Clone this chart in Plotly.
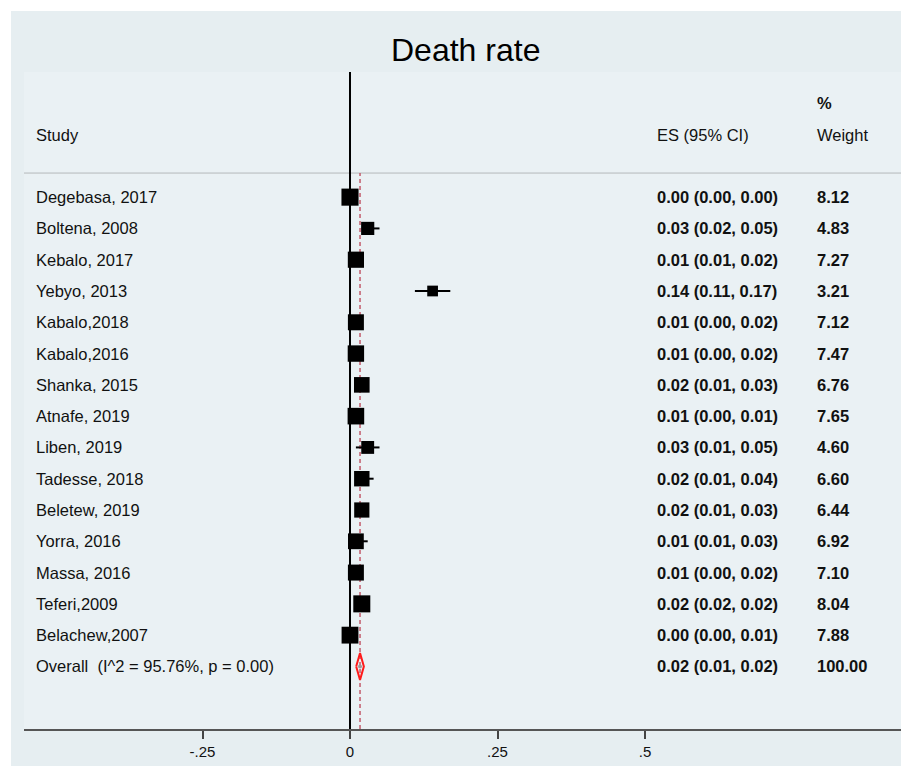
import math
import plotly.graph_objects as go

# ---- data -------------------------------------------------------------
studies = ["Degebasa, 2017", "Boltena, 2008", "Kebalo, 2017", "Yebyo, 2013",
           "Kabalo,2018", "Kabalo,2016", "Shanka, 2015", "Atnafe, 2019",
           "Liben, 2019", "Tadesse, 2018", "Beletew, 2019", "Yorra, 2016",
           "Massa, 2016", "Teferi,2009", "Belachew,2007"]
es = [0.00, 0.03, 0.01, 0.14, 0.01, 0.01, 0.02, 0.01, 0.03, 0.02, 0.02,
      0.01, 0.01, 0.02, 0.00]
ci_low = [0.00, 0.02, 0.01, 0.11, 0.00, 0.00, 0.01, 0.00, 0.01, 0.01, 0.01,
          0.01, 0.00, 0.02, 0.00]
ci_high = [0.00, 0.05, 0.02, 0.17, 0.02, 0.02, 0.03, 0.01, 0.05, 0.04, 0.03,
           0.03, 0.02, 0.02, 0.01]
weights = [8.12, 4.83, 7.27, 3.21, 7.12, 7.47, 6.76, 7.65, 4.60, 6.60, 6.44,
           6.92, 7.10, 8.04, 7.88]
overall_es = 0.017
overall_low = 0.0105
overall_high = 0.0235
overall_weight = 100.00
i_squared = 95.76
p_het = 0.00
tick_vals = [-0.25, 0, 0.25, 0.5]
tick_text = ["-.25", "0", ".25", ".5"]

# ---- layout geometry --------------------------------------------------
W, H = 901, 766
ML, MR, MT, MB = 24, 0, 72, 37
PW, PH = W - ML - MR, H - MT - MB
PX_PER_UNIT = 590.0
ZERO_PX = 350.0
x_range = [(ML - ZERO_PX) / PX_PER_UNIT, (W - MR - ZERO_PX) / PX_PER_UNIT]
y_range = [17.0, -4.0]          # rows, reversed (row 0 at top)


def px_x(p):
    """horizontal pixel -> paper fraction"""
    return (p - ML) / PW


def px_y(p):
    """vertical pixel (from top) -> paper fraction"""
    return (H - MB - p) / PH


FONT = "Liberation Sans, Arial, sans-serif"
TXT = "#111111"
FS = 16.5
n = len(studies)
rows = list(range(n))
overall_row = n

fig = go.Figure()

# confidence-interval whiskers
cx, cy = [], []
for i in rows:
    cx += [ci_low[i], ci_high[i], None]
    cy += [i, i, None]
fig.add_trace(go.Scatter(x=cx, y=cy, mode="lines",
                         line=dict(color="black", width=2),
                         hoverinfo="skip", showlegend=False))

# weighted study boxes
fig.add_trace(go.Scatter(
    x=es, y=rows, mode="markers",
    marker=dict(symbol="square", color="black", opacity=1,
                size=[6.0 * math.sqrt(w) for w in weights],
                line=dict(width=0)),
    showlegend=False))

# pooled estimate diamond
h = 0.43
fig.add_trace(go.Scatter(
    x=[overall_low, overall_es, overall_high, overall_es, overall_low],
    y=[overall_row, overall_row - h, overall_row, overall_row + h, overall_row],
    mode="lines", line=dict(color="#ff1a1a", width=2),
    hoverinfo="skip", showlegend=False))
fig.add_trace(go.Scatter(
    x=[overall_es], y=[overall_row], mode="markers",
    marker=dict(color="#9a9a9a", size=4, opacity=1), showlegend=False))

shapes = [
    # white page margin strips
    dict(type="rect", xref="paper", yref="paper", layer="above",
         x0=px_x(0), x1=px_x(W), y0=px_y(11), y1=px_y(0),
         fillcolor="white", line=dict(width=0)),
    dict(type="rect", xref="paper", yref="paper", layer="above",
         x0=px_x(0), x1=px_x(11), y0=px_y(H), y1=px_y(0),
         fillcolor="white", line=dict(width=0)),
    # header separator
    dict(type="line", xref="paper", yref="y", x0=0, x1=1, y0=-0.77, y1=-0.77,
         line=dict(color="#b4b8ba", width=1), layer="below"),
    # no-effect line
    dict(type="line", xref="x", yref="paper", x0=0, x1=0, y0=0, y1=1,
         line=dict(color="black", width=2), layer="below"),
    # pooled estimate line
    dict(type="line", xref="x", yref="paper", x0=overall_es, x1=overall_es,
         y0=0, y1=px_y(173),
         line=dict(color="#c25b6b", width=1.5, dash="4px,3px"), layer="below"),
]

ann = []


def add_text(xpx, row, text, bold=False, size=FS):
    ann.append(dict(xref="paper", yref="y", x=px_x(xpx - 2), y=row,
                    text=f"<b>{text}</b>" if bold else text,
                    xanchor="left", yanchor="middle", showarrow=False,
                    font=dict(family=FONT, size=size, color=TXT)))


# column headers
add_text(36, -2, "Study")
add_text(657, -2, "ES (95% CI)")
add_text(817, -3, "%", bold=True)
add_text(817, -2, "Weight")

# study rows
for i in rows:
    add_text(36, i, studies[i])
    add_text(657, i, f"{es[i]:.2f} ({ci_low[i]:.2f}, {ci_high[i]:.2f})", bold=True)
    add_text(817, i, f"{weights[i]:.2f}", bold=True)

# pooled row
add_text(36, overall_row,
         f"Overall\u00a0 (I^2 = {i_squared:.2f}%, p = {p_het:.2f})")
add_text(657, overall_row,
         f"{overall_es:.2f} ({overall_low:.2f}, {overall_high:.2f})", bold=True)
add_text(817, overall_row, f"{overall_weight:.2f}", bold=True)

# title
ann.append(dict(xref="paper", yref="paper", x=px_x(466), y=px_y(50),
                text="Death rate", xanchor="center", yanchor="middle",
                showarrow=False, font=dict(family=FONT, size=32, color="black")))

fig.update_layout(
    width=W, height=H,
    margin=dict(l=ML, r=MR, t=MT, b=MB, pad=0),
    paper_bgcolor="#e6eef1",
    plot_bgcolor="#eaf1f4",
    showlegend=False,
    shapes=shapes,
    annotations=ann,
    xaxis=dict(range=x_range, showgrid=False, zeroline=False,
               showline=True, linecolor="#555555", linewidth=2,
               ticks="outside", ticklen=8, tickwidth=1.5, tickcolor="#444444",
               tickvals=tick_vals, ticktext=tick_text,
               tickfont=dict(family=FONT, size=15, color=TXT)),
    yaxis=dict(range=y_range, showgrid=False, zeroline=False,
               showticklabels=False, showline=False, ticks=""),
)

fig.write_html("out.html")
